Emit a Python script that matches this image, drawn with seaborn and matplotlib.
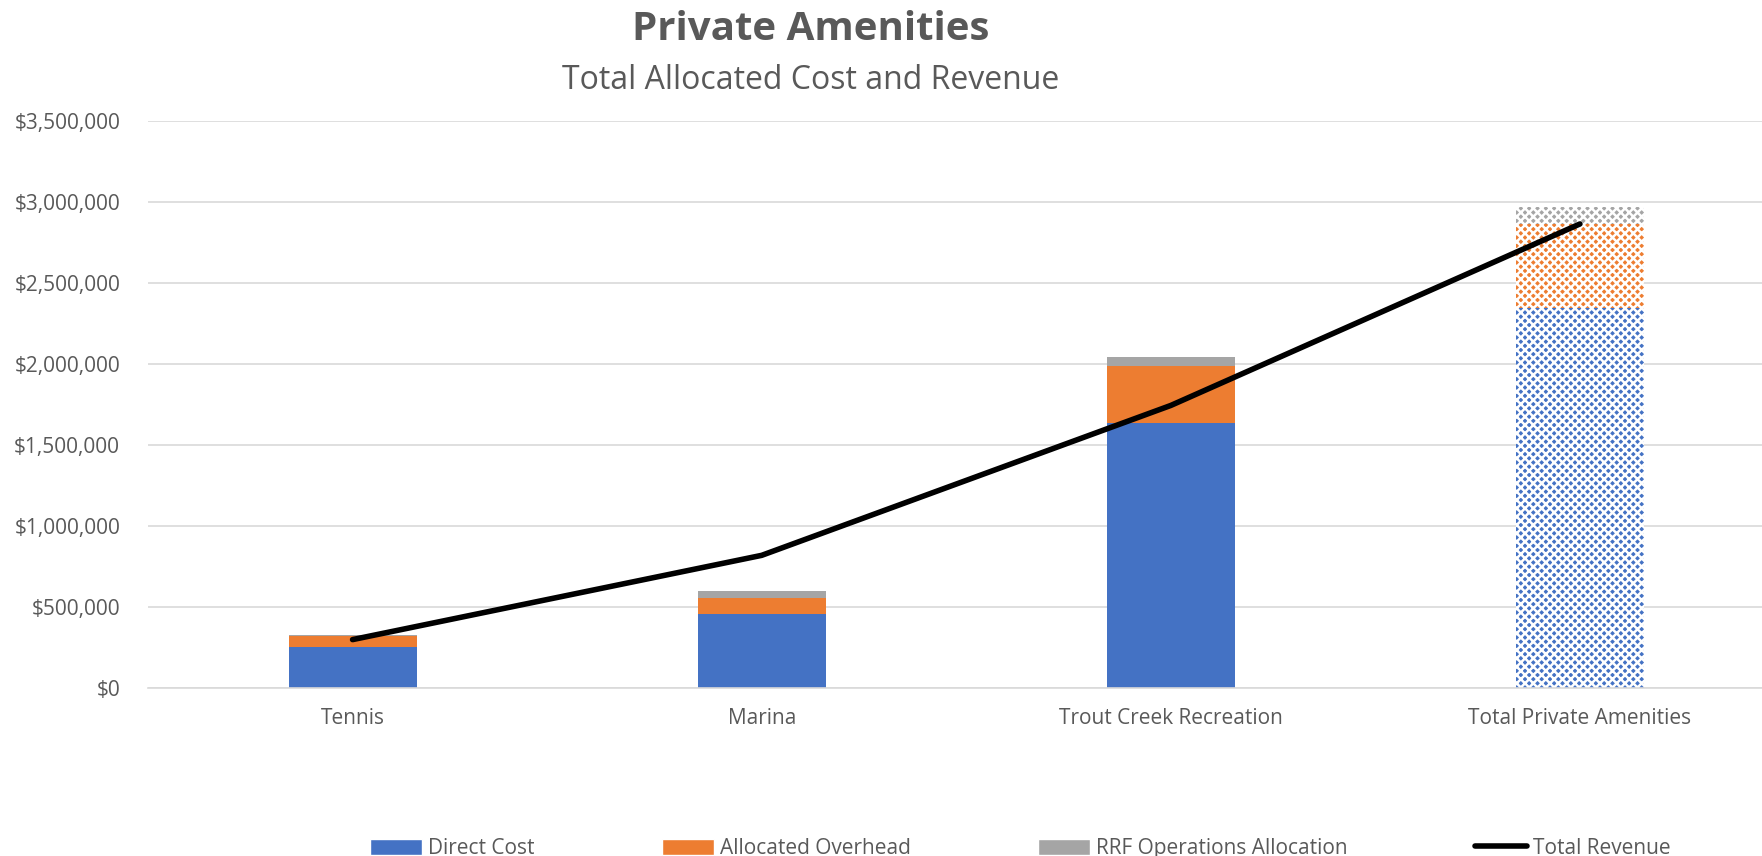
import matplotlib
matplotlib.use("Agg")
import matplotlib.pyplot as plt
from matplotlib.patches import Patch
from matplotlib.lines import Line2D
from matplotlib.ticker import FuncFormatter
import seaborn as sns
import pandas as pd

# Amenity cost breakdown and revenue
categories = ["Tennis", "Marina", "Trout Creek Recreation", "Total Private Amenities"]
direct_cost = [255000, 455000, 1635000, 2345000]
allocated_overhead = [65000, 100000, 355000, 520000]
rrf_operations = [8000, 42000, 55000, 105000]
total_revenue = [300000, 820000, 1745000, 2865000]
y_ticks = [0, 500000, 1000000, 1500000, 2000000, 2500000, 3000000, 3500000]

BLUE = "#4472C4"
ORANGE = "#ED7D31"
GRAY = "#A5A5A5"
TEXT = "#595959"
GRID = "#D9D9D9"

sns.set_theme(style="white")
plt.rcParams["font.family"] = ["Open Sans", "DejaVu Sans"]
plt.rcParams["hatch.linewidth"] = 1.8

fig = plt.figure(figsize=(17.62, 8.56), dpi=100)
ax = fig.add_axes([0.084, 0.196, 0.916, 0.6626])

df = pd.DataFrame({
    "category": categories,
    "direct": direct_cost,
    "overhead": allocated_overhead,
    "rrf": rrf_operations,
    "revenue": total_revenue,
})
bottom_overhead = df["direct"].values
bottom_rrf = (df["direct"] + df["overhead"]).values

layers = [
    ("direct", BLUE, None),
    ("overhead", ORANGE, bottom_overhead),
    ("rrf", GRAY, bottom_rrf),
]
bar_width = 0.313
for col, color, bottom in layers:
    kwargs = dict(bottom=bottom) if bottom is not None else {}
    sns.barplot(data=df, x="category", y=col, color=color, width=bar_width,
                saturation=1, ax=ax, zorder=2, linewidth=0, **kwargs)

# The total column is drawn with a checkered fill
n = len(categories)
for i, patch in enumerate(ax.patches):
    if i % n == n - 1:
        patch.set_hatch("xxxx")
        patch.set_edgecolor("white")
        patch.set_linewidth(0)

sns.lineplot(data=df, x="category", y="revenue", color="black", linewidth=4,
             sort=False, ax=ax, zorder=3, solid_capstyle="round")

ax.set_xlim(-0.5, 3.445)
ax.set_ylim(0, 3500000)
ax.set_yticks(y_ticks)
ax.yaxis.set_major_formatter(FuncFormatter(lambda v, p: f"${v:,.0f}"))
ax.grid(axis="y", color=GRID, linewidth=1.2, zorder=0)
ax.set_axisbelow(True)
for s in ["left", "right", "top"]:
    ax.spines[s].set_visible(False)
ax.spines["bottom"].set_color(GRID)
ax.spines["bottom"].set_linewidth(1.2)
ax.tick_params(axis="y", length=0, pad=20, labelsize=15, labelcolor=TEXT)
ax.tick_params(axis="x", length=0, pad=14, labelsize=15, labelcolor=TEXT)
ax.set_xlabel("")
ax.set_ylabel("")

fig.text(0.46, 0.965, "Private Amenities", ha="center", va="center",
         fontsize=29, fontweight="bold", color=TEXT)
fig.text(0.46, 0.906, "Total Allocated Cost and Revenue", ha="center", va="center",
         fontsize=23, color=TEXT)

handles = [
    Patch(facecolor=BLUE, label="Direct Cost"),
    Patch(facecolor=ORANGE, label="Allocated Overhead"),
    Patch(facecolor=GRAY, label="RRF Operations Allocation"),
    Line2D([0], [0], color="black", linewidth=4, label="Total Revenue"),
]
leg = fig.legend(handles=handles, loc="center", bbox_to_anchor=(0.579, 0.009),
                 ncol=4, frameon=False, fontsize=15, columnspacing=6.1,
                 handlelength=2.5, handleheight=0.8, handletextpad=0.3)
for t in leg.get_texts():
    t.set_color(TEXT)

fig.savefig("out.png", dpi=100)
